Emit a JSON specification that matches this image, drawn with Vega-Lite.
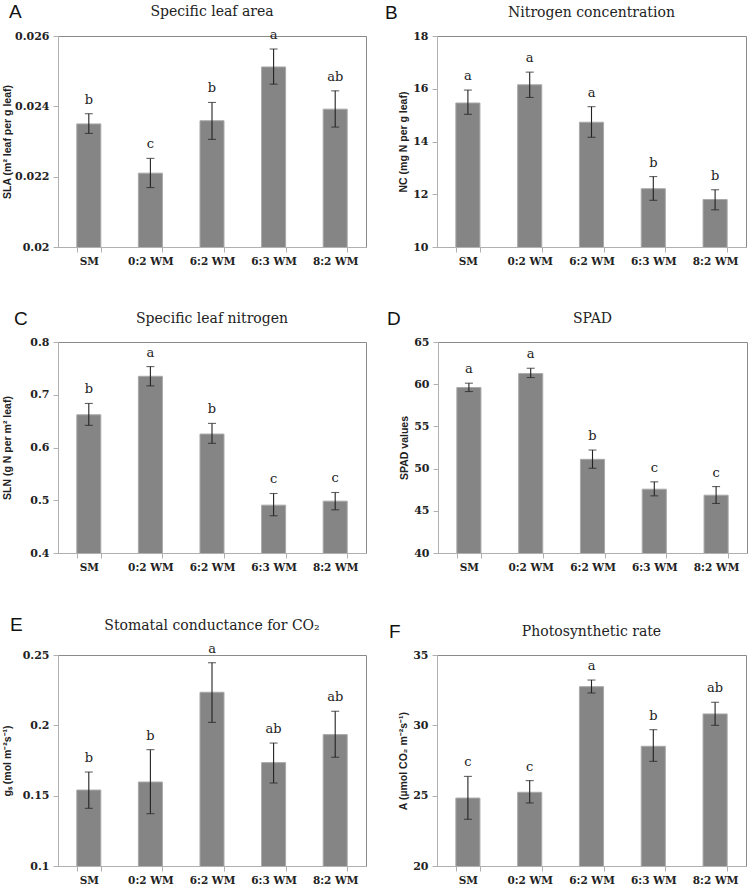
{
  "$schema": "https://vega.github.io/schema/vega-lite/v6.json",
  "background": "white",
  "padding": {"left": 1, "top": 2, "right": 0, "bottom": 0},
  "datasets": {
    "A": [
      {"treatment": "SM", "mean": 0.0235, "lo": 0.02323, "hi": 0.02379, "group": "b"},
      {"treatment": "0:2 WM", "mean": 0.0221, "lo": 0.02169, "hi": 0.02252, "group": "c"},
      {"treatment": "6:2 WM", "mean": 0.02359, "lo": 0.02306, "hi": 0.02411, "group": "b"},
      {"treatment": "6:3 WM", "mean": 0.02512, "lo": 0.02463, "hi": 0.02563, "group": "a"},
      {"treatment": "8:2 WM", "mean": 0.02392, "lo": 0.02341, "hi": 0.02444, "group": "ab"}
    ],
    "B": [
      {"treatment": "SM", "mean": 15.46, "lo": 15.03, "hi": 15.95, "group": "a"},
      {"treatment": "0:2 WM", "mean": 16.15, "lo": 15.67, "hi": 16.63, "group": "a"},
      {"treatment": "6:2 WM", "mean": 14.73, "lo": 14.16, "hi": 15.32, "group": "a"},
      {"treatment": "6:3 WM", "mean": 12.21, "lo": 11.77, "hi": 12.67, "group": "b"},
      {"treatment": "8:2 WM", "mean": 11.8, "lo": 11.41, "hi": 12.17, "group": "b"}
    ],
    "C": [
      {"treatment": "SM", "mean": 0.662, "lo": 0.642, "hi": 0.6835, "group": "b"},
      {"treatment": "0:2 WM", "mean": 0.735, "lo": 0.7168, "hi": 0.7534, "group": "a"},
      {"treatment": "6:2 WM", "mean": 0.6255, "lo": 0.6079, "hi": 0.6457, "group": "b"},
      {"treatment": "6:3 WM", "mean": 0.4907, "lo": 0.4706, "hi": 0.5128, "group": "c"},
      {"treatment": "8:2 WM", "mean": 0.4983, "lo": 0.4819, "hi": 0.5147, "group": "c"}
    ],
    "D": [
      {"treatment": "SM", "mean": 59.61, "lo": 59.13, "hi": 60.12, "group": "a"},
      {"treatment": "0:2 WM", "mean": 61.26, "lo": 60.79, "hi": 61.89, "group": "a"},
      {"treatment": "6:2 WM", "mean": 51.1, "lo": 50.04, "hi": 52.2, "group": "b"},
      {"treatment": "6:3 WM", "mean": 47.56, "lo": 46.77, "hi": 48.43, "group": "c"},
      {"treatment": "8:2 WM", "mean": 46.85, "lo": 45.87, "hi": 47.87, "group": "c"}
    ],
    "E": [
      {"treatment": "SM", "mean": 0.154, "lo": 0.141, "hi": 0.1668, "group": "b"},
      {"treatment": "0:2 WM", "mean": 0.1597, "lo": 0.1372, "hi": 0.1827, "group": "b"},
      {"treatment": "6:2 WM", "mean": 0.2235, "lo": 0.2021, "hi": 0.2445, "group": "a"},
      {"treatment": "6:3 WM", "mean": 0.1735, "lo": 0.159, "hi": 0.1874, "group": "ab"},
      {"treatment": "8:2 WM", "mean": 0.1934, "lo": 0.1773, "hi": 0.21, "group": "ab"}
    ],
    "F": [
      {"treatment": "SM", "mean": 24.83, "lo": 23.32, "hi": 26.37, "group": "c"},
      {"treatment": "0:2 WM", "mean": 25.24, "lo": 24.48, "hi": 26.07, "group": "c"},
      {"treatment": "6:2 WM", "mean": 32.75, "lo": 32.3, "hi": 33.22, "group": "a"},
      {"treatment": "6:3 WM", "mean": 28.51, "lo": 27.44, "hi": 29.69, "group": "b"},
      {"treatment": "8:2 WM", "mean": 30.81, "lo": 30.0, "hi": 31.64, "group": "ab"}
    ]
  },
  "spacing": 43,
  "vconcat": [
    {
      "spacing": 42,
      "vconcat": [
        {
          "spacing": 18,
          "hconcat": [
            {
              "title": {"text": "A", "anchor": "start", "frame": "group", "font": "Liberation Sans", "fontSize": 19, "fontWeight": "normal", "color": "#111", "offset": 0, "dx": -49, "dy": 32, "baseline": "alphabetic"},
              "vconcat": [{
                "title": {"text": "Specific leaf area", "offset": 10},
                "width": 308, "height": 211,
                "data": {"name": "A"},
                "encoding": {"x": {"field": "treatment", "type": "nominal", "sort": null, "title": null, "scale": {"paddingInner": 0.61, "paddingOuter": 0.305}}},
                "layer": [
                  {"mark": {"type": "bar", "fill": "#858585", "stroke": "#a9a9a9", "strokeWidth": 1, "clip": true},
                   "encoding": {"y": {"field": "mean", "type": "quantitative", "scale": {"domain": [0.02, 0.026], "nice": false, "zero": false}, "axis": {"title": "SLA (m² leaf per g leaf)", "values": [0.02, 0.022, 0.024, 0.026], "format": "~g", "minExtent": 46, "maxExtent": 46}}}},
                  {"mark": {"type": "rule", "color": "#222", "strokeWidth": 1.1}, "encoding": {"y": {"field": "lo", "type": "quantitative"}, "y2": {"field": "hi"}}},
                  {"mark": {"type": "tick", "color": "#222", "size": 8, "thickness": 1.1}, "encoding": {"y": {"field": "lo", "type": "quantitative"}}},
                  {"mark": {"type": "tick", "color": "#222", "size": 8, "thickness": 1.1}, "encoding": {"y": {"field": "hi", "type": "quantitative"}}},
                  {"mark": {"type": "text", "font": "DejaVu Serif", "fontSize": 13, "color": "#222", "baseline": "alphabetic", "dy": -10}, "encoding": {"y": {"field": "hi", "type": "quantitative"}, "text": {"field": "group"}}}
                ]
              }]
            },
            {
              "title": {"text": "B", "anchor": "start", "frame": "group", "font": "Liberation Sans", "fontSize": 19, "fontWeight": "normal", "color": "#111", "offset": 0, "dx": -52, "dy": 32, "baseline": "alphabetic"},
              "vconcat": [{
                "title": {"text": "Nitrogen concentration", "offset": 10},
                "width": 309, "height": 211,
                "data": {"name": "B"},
                "encoding": {"x": {"field": "treatment", "type": "nominal", "sort": null, "title": null, "scale": {"paddingInner": 0.61, "paddingOuter": 0.305}}},
                "layer": [
                  {"mark": {"type": "bar", "fill": "#858585", "stroke": "#a9a9a9", "strokeWidth": 1, "clip": true},
                   "encoding": {"y": {"field": "mean", "type": "quantitative", "scale": {"domain": [10, 18], "nice": false, "zero": false}, "axis": {"title": "NC (mg N per g leaf)", "values": [10, 12, 14, 16, 18], "format": "~g", "minExtent": 29, "maxExtent": 29}}}},
                  {"mark": {"type": "rule", "color": "#222", "strokeWidth": 1.1}, "encoding": {"y": {"field": "lo", "type": "quantitative"}, "y2": {"field": "hi"}}},
                  {"mark": {"type": "tick", "color": "#222", "size": 8, "thickness": 1.1}, "encoding": {"y": {"field": "lo", "type": "quantitative"}}},
                  {"mark": {"type": "tick", "color": "#222", "size": 8, "thickness": 1.1}, "encoding": {"y": {"field": "hi", "type": "quantitative"}}},
                  {"mark": {"type": "text", "font": "DejaVu Serif", "fontSize": 13, "color": "#222", "baseline": "alphabetic", "dy": -10}, "encoding": {"y": {"field": "hi", "type": "quantitative"}, "text": {"field": "group"}}}
                ]
              }]
            }
          ]
        },
        {
          "spacing": 20,
          "hconcat": [
            {
              "title": {"text": "C", "anchor": "start", "frame": "group", "font": "Liberation Sans", "fontSize": 19, "fontWeight": "normal", "color": "#111", "offset": 0, "dx": -44, "dy": 32, "baseline": "alphabetic"},
              "vconcat": [{
                "title": {"text": "Specific leaf nitrogen", "offset": 10},
                "width": 308, "height": 211,
                "data": {"name": "C"},
                "encoding": {"x": {"field": "treatment", "type": "nominal", "sort": null, "title": null, "scale": {"paddingInner": 0.61, "paddingOuter": 0.305}}},
                "layer": [
                  {"mark": {"type": "bar", "fill": "#858585", "stroke": "#a9a9a9", "strokeWidth": 1, "clip": true},
                   "encoding": {"y": {"field": "mean", "type": "quantitative", "scale": {"domain": [0.4, 0.8], "nice": false, "zero": false}, "axis": {"title": "SLN (g N per m² leaf)", "values": [0.4, 0.5, 0.6, 0.7, 0.8], "format": "~g", "minExtent": 46, "maxExtent": 46}}}},
                  {"mark": {"type": "rule", "color": "#222", "strokeWidth": 1.1}, "encoding": {"y": {"field": "lo", "type": "quantitative"}, "y2": {"field": "hi"}}},
                  {"mark": {"type": "tick", "color": "#222", "size": 8, "thickness": 1.1}, "encoding": {"y": {"field": "lo", "type": "quantitative"}}},
                  {"mark": {"type": "tick", "color": "#222", "size": 8, "thickness": 1.1}, "encoding": {"y": {"field": "hi", "type": "quantitative"}}},
                  {"mark": {"type": "text", "font": "DejaVu Serif", "fontSize": 13, "color": "#222", "baseline": "alphabetic", "dy": -10}, "encoding": {"y": {"field": "hi", "type": "quantitative"}, "text": {"field": "group"}}}
                ]
              }]
            },
            {
              "title": {"text": "D", "anchor": "start", "frame": "group", "font": "Liberation Sans", "fontSize": 19, "fontWeight": "normal", "color": "#111", "offset": 0, "dx": -51, "dy": 32, "baseline": "alphabetic"},
              "vconcat": [{
                "title": {"text": "SPAD", "offset": 10},
                "width": 309, "height": 211,
                "data": {"name": "D"},
                "encoding": {"x": {"field": "treatment", "type": "nominal", "sort": null, "title": null, "scale": {"paddingInner": 0.61, "paddingOuter": 0.305}}},
                "layer": [
                  {"mark": {"type": "bar", "fill": "#858585", "stroke": "#a9a9a9", "strokeWidth": 1, "clip": true},
                   "encoding": {"y": {"field": "mean", "type": "quantitative", "scale": {"domain": [40, 65], "nice": false, "zero": false}, "axis": {"title": "SPAD values", "values": [40, 45, 50, 55, 60, 65], "format": "~g", "minExtent": 29, "maxExtent": 29}}}},
                  {"mark": {"type": "rule", "color": "#222", "strokeWidth": 1.1}, "encoding": {"y": {"field": "lo", "type": "quantitative"}, "y2": {"field": "hi"}}},
                  {"mark": {"type": "tick", "color": "#222", "size": 8, "thickness": 1.1}, "encoding": {"y": {"field": "lo", "type": "quantitative"}}},
                  {"mark": {"type": "tick", "color": "#222", "size": 8, "thickness": 1.1}, "encoding": {"y": {"field": "hi", "type": "quantitative"}}},
                  {"mark": {"type": "text", "font": "DejaVu Serif", "fontSize": 13, "color": "#222", "baseline": "alphabetic", "dy": -10}, "encoding": {"y": {"field": "hi", "type": "quantitative"}, "text": {"field": "group"}}}
                ]
              }]
            }
          ]
        }
      ]
    },
    {
      "spacing": 22,
      "hconcat": [
        {
          "title": {"text": "E", "anchor": "start", "frame": "group", "font": "Liberation Sans", "fontSize": 19, "fontWeight": "normal", "color": "#111", "offset": 0, "dx": -48, "dy": 32, "baseline": "alphabetic"},
          "vconcat": [{
            "title": {"text": "Stomatal conductance for CO₂", "offset": 10},
            "width": 308, "height": 211,
            "data": {"name": "E"},
            "encoding": {"x": {"field": "treatment", "type": "nominal", "sort": null, "title": null, "scale": {"paddingInner": 0.61, "paddingOuter": 0.305}}},
            "layer": [
              {"mark": {"type": "bar", "fill": "#858585", "stroke": "#a9a9a9", "strokeWidth": 1, "clip": true},
               "encoding": {"y": {"field": "mean", "type": "quantitative", "scale": {"domain": [0.1, 0.25], "nice": false, "zero": false}, "axis": {"title": "gₛ (mol m⁻²s⁻¹)", "values": [0.1, 0.15, 0.2, 0.25], "format": "~g", "minExtent": 46, "maxExtent": 46}}}},
              {"mark": {"type": "rule", "color": "#222", "strokeWidth": 1.1}, "encoding": {"y": {"field": "lo", "type": "quantitative"}, "y2": {"field": "hi"}}},
              {"mark": {"type": "tick", "color": "#222", "size": 8, "thickness": 1.1}, "encoding": {"y": {"field": "lo", "type": "quantitative"}}},
              {"mark": {"type": "tick", "color": "#222", "size": 8, "thickness": 1.1}, "encoding": {"y": {"field": "hi", "type": "quantitative"}}},
              {"mark": {"type": "text", "font": "DejaVu Serif", "fontSize": 13, "color": "#222", "baseline": "alphabetic", "dy": -10}, "encoding": {"y": {"field": "hi", "type": "quantitative"}, "text": {"field": "group"}}}
            ]
          }]
        },
        {
          "title": {"text": "F", "anchor": "start", "frame": "group", "font": "Liberation Sans", "fontSize": 19, "fontWeight": "normal", "color": "#111", "offset": 0, "dx": -48, "dy": 32, "baseline": "alphabetic"},
          "vconcat": [{
            "title": {"text": "Photosynthetic rate", "offset": 10},
            "width": 309, "height": 211,
            "data": {"name": "F"},
            "encoding": {"x": {"field": "treatment", "type": "nominal", "sort": null, "title": null, "scale": {"paddingInner": 0.61, "paddingOuter": 0.305}}},
            "layer": [
              {"mark": {"type": "bar", "fill": "#858585", "stroke": "#a9a9a9", "strokeWidth": 1, "clip": true},
               "encoding": {"y": {"field": "mean", "type": "quantitative", "scale": {"domain": [20, 35], "nice": false, "zero": false}, "axis": {"title": "A (µmol CO₂ m⁻²s⁻¹)", "values": [20, 25, 30, 35], "format": "~g", "minExtent": 29, "maxExtent": 29}}}},
              {"mark": {"type": "rule", "color": "#222", "strokeWidth": 1.1}, "encoding": {"y": {"field": "lo", "type": "quantitative"}, "y2": {"field": "hi"}}},
              {"mark": {"type": "tick", "color": "#222", "size": 8, "thickness": 1.1}, "encoding": {"y": {"field": "lo", "type": "quantitative"}}},
              {"mark": {"type": "tick", "color": "#222", "size": 8, "thickness": 1.1}, "encoding": {"y": {"field": "hi", "type": "quantitative"}}},
              {"mark": {"type": "text", "font": "DejaVu Serif", "fontSize": 13, "color": "#222", "baseline": "alphabetic", "dy": -10}, "encoding": {"y": {"field": "hi", "type": "quantitative"}, "text": {"field": "group"}}}
            ]
          }]
        }
      ]
    }
  ],
  "config": {
    "view": {"stroke": "#8a8a8a", "strokeWidth": 1},
    "axis": {"grid": false, "domainColor": "#b0b0b0", "tickColor": "#b0b0b0", "tickSize": 5, "labelColor": "#222", "titleColor": "#222"},
    "axisY": {"labelFont": "DejaVu Serif", "labelFontWeight": "bold", "labelFontSize": 11, "labelPadding": 4, "titleFont": "Liberation Sans", "titleFontSize": 10.5, "titleFontWeight": "bold", "titlePadding": 0},
    "axisX": {"labelFont": "DejaVu Serif", "labelFontWeight": "bold", "labelFontSize": 10.5, "labelAngle": 0, "labelPadding": 4, "tickBand": "extent"},
    "title": {"font": "DejaVu Serif", "fontSize": 14, "fontWeight": "normal", "color": "#222"}
  }
}
